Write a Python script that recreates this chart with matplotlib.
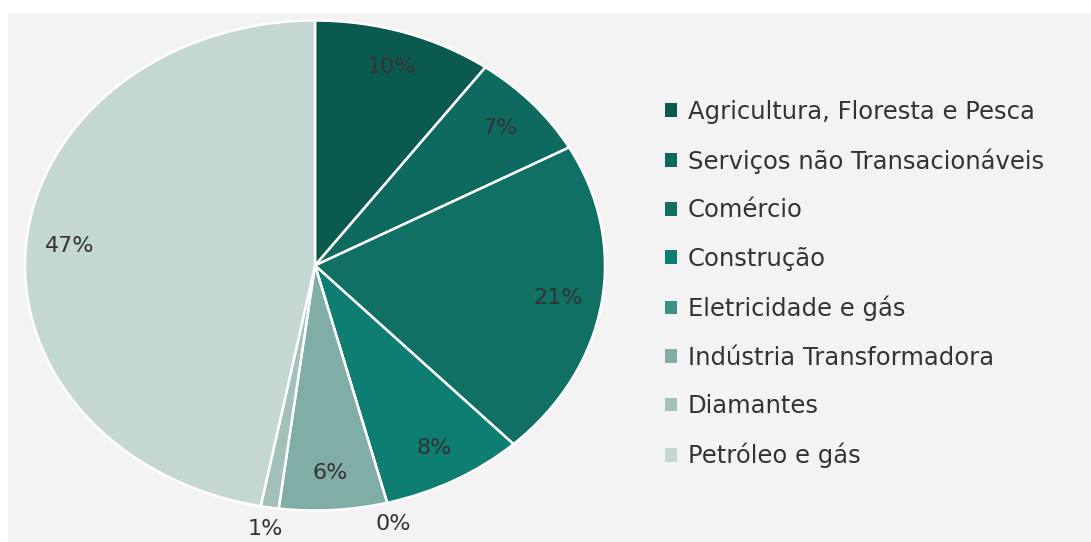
import numpy as np
import matplotlib.pyplot as plt
from matplotlib.patches import Rectangle

plt.rcParams['font.family'] = ['DejaVu Sans']

setores = ['Agricultura, Floresta e Pesca', 'Serviços não Transacionáveis', 'Comércio',
           'Construção', 'Eletricidade e gás', 'Indústria Transformadora',
           'Diamantes', 'Petróleo e gás']
pesos = [10, 7, 21, 8, 0, 6, 1, 47]
cores = ['#0b5a4f', '#0e6a5e', '#0f7063', '#0d7e71', '#3d9085', '#80aea6', '#a3c0ba', '#c4d7d3']

W, H = 1091, 542
fig = plt.figure(figsize=(W / 100, H / 100), dpi=100)
fig.patch.set_facecolor('white')
fig.patches.append(Rectangle((8 / W, 0), 1, (H - 13) / H, transform=fig.transFigure,
                             facecolor='#f3f3f3', edgecolor='none', zorder=-5))

# pie is stretched horizontally in the original (rx ~290 px, ry ~245 px)
cx, cy, rx, ry = 315, 265.5, 290, 245
ax = fig.add_axes([(cx - rx) / W, (H - cy - ry) / H, 2 * rx / W, 2 * ry / H])
ax.patch.set_alpha(0)

wedges, textos, pcts = ax.pie(pesos, colors=cores, startangle=90, counterclock=False,
                              autopct=lambda p: f'{p:.0f}%', pctdistance=0.85,
                              wedgeprops=dict(edgecolor='white', linewidth=1.8),
                              textprops=dict(fontsize=16, color='#333333'))
ax.set_aspect('auto')
ax.set_xlim(-1, 1)
ax.set_ylim(-1, 1)

# small slices get their label just outside the rim
for w, t, v in zip(wedges, pcts, pesos):
    if v < 2:
        ang = np.deg2rad((w.theta1 + w.theta2) / 2)
        t.set_position((1.09 * np.cos(ang), 1.09 * np.sin(ang)))
        t.set_clip_on(False)

leg = fig.legend(wedges, setores, loc='upper left', bbox_to_anchor=(643 / W, 1 - 78 / H),
                 frameon=False, fontsize=17.5, handlelength=0.5, handleheight=0.5,
                 handletextpad=0.45, labelspacing=1.01, labelcolor='#333333')
for h in leg.legend_handles:
    h.set_edgecolor('none')

fig.savefig('out.png', dpi=100)
